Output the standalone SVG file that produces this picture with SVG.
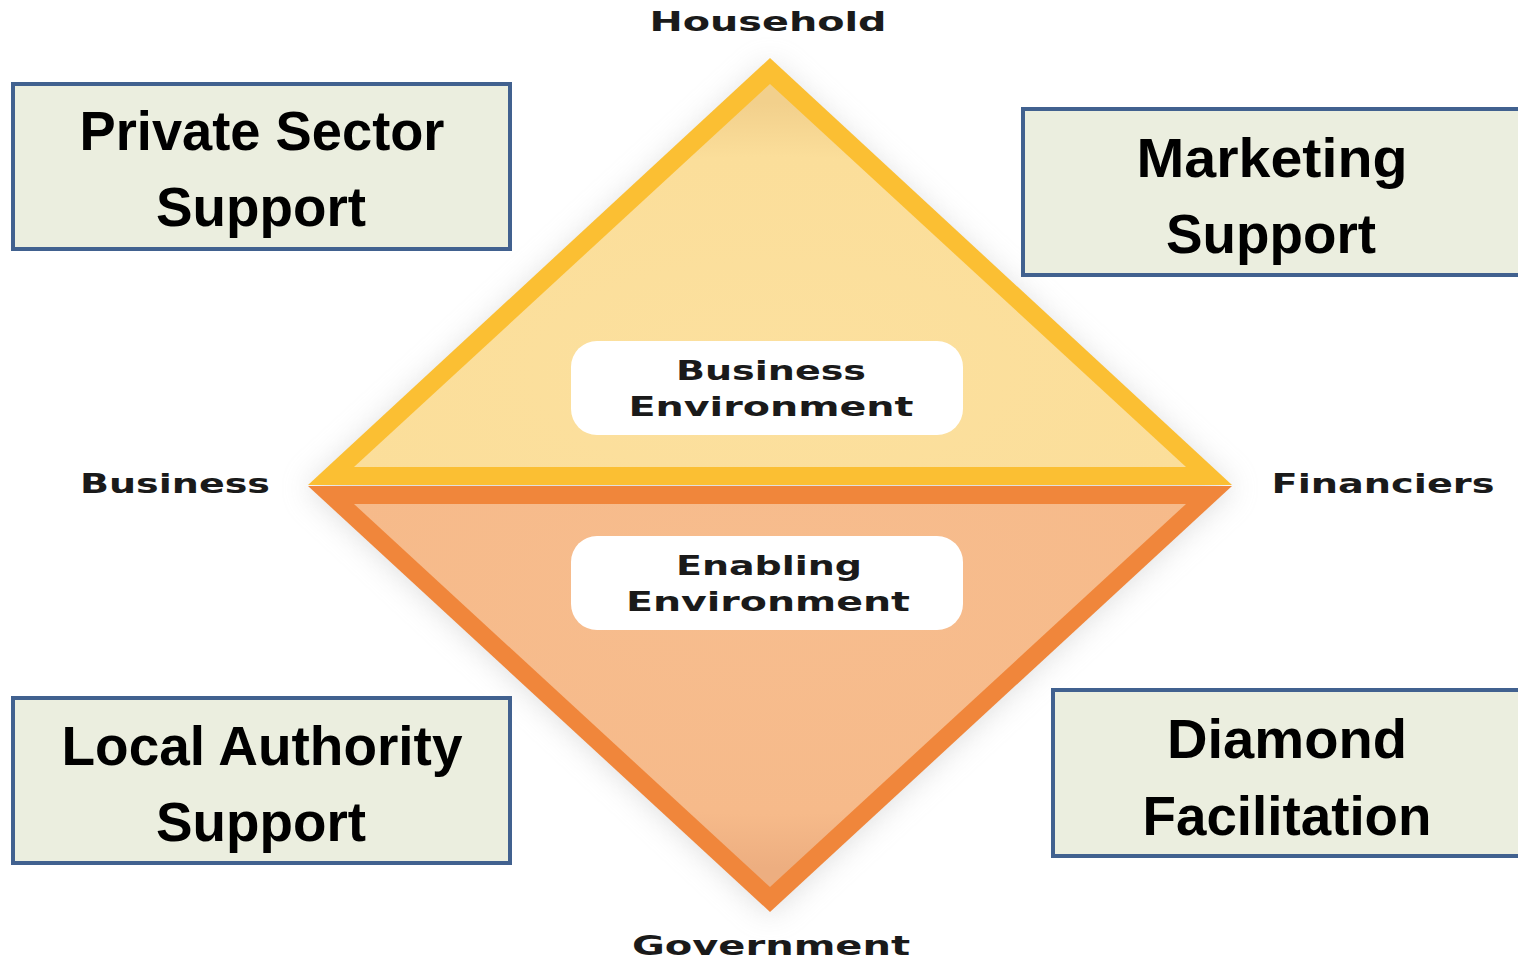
<svg xmlns="http://www.w3.org/2000/svg" width="1518" height="958" viewBox="0 0 1518 958">
<style>
.box{fill:#EBEEDF;stroke:#41618F;stroke-width:4}
.big{font-family:"Liberation Sans",Arial,sans-serif;font-weight:bold;font-size:56px;fill:#000;text-anchor:middle}
.lbl{font-family:"DejaVu Sans",Verdana,sans-serif;font-weight:bold;font-size:26px;fill:#1a1a1a;text-anchor:middle}
.pill{fill:#FFFFFF}
.ptxt{font-family:"DejaVu Sans",Verdana,sans-serif;font-weight:bold;font-size:26px;fill:#1a1a1a;text-anchor:middle}
</style>
<defs>
<filter id="shadow" x="-20%" y="-20%" width="140%" height="140%">
<feGaussianBlur stdDeviation="14"/>
</filter>
<filter id="soft" x="-10%" y="-10%" width="120%" height="120%">
<feGaussianBlur stdDeviation="6"/>
</filter>
<radialGradient id="gTop" cx="0.5" cy="0.75" r="0.7">
<stop offset="0" stop-color="#FCE09E"/>
<stop offset="0.8" stop-color="#FBDE9A"/>
<stop offset="1" stop-color="#F2D08C"/>
</radialGradient>
<radialGradient id="gBot" cx="0.5" cy="0.25" r="0.7">
<stop offset="0" stop-color="#F7BD8E"/>
<stop offset="0.8" stop-color="#F6BA8A"/>
<stop offset="1" stop-color="#EDAE80"/>
</radialGradient>
</defs>
<rect width="1518" height="958" fill="#FFFFFF"/>
<g id="diamond">
<polygon points="770,62 306,488 770,916 1234,488" fill="#C8C8C8" opacity="0.55" filter="url(#shadow)"/>
<polygon points="770,58 308,485 1232,485" fill="#FBBF33"/>
<polygon points="770,84 354,467 1186,467" fill="url(#gTop)"/>
<polygon points="308,486 1232,486 770,912" fill="#F0863B"/>
<polygon points="354,504 1186,504 770,887" fill="url(#gBot)"/>
</g>
<g id="labels">
<text class="lbl" x="768" y="31" textLength="237" lengthAdjust="spacingAndGlyphs">Household</text>
<text class="lbl" x="175" y="493" textLength="190" lengthAdjust="spacingAndGlyphs">Business</text>
<text class="lbl" x="1383" y="493" textLength="223" lengthAdjust="spacingAndGlyphs">Financiers</text>
<text class="lbl" x="771" y="955" textLength="278" lengthAdjust="spacingAndGlyphs">Government</text>
</g>
<g id="business-environment">
<rect class="pill" x="571" y="341" width="392" height="94" rx="26"/>
<text class="ptxt" x="771" y="380" textLength="190" lengthAdjust="spacingAndGlyphs">Business</text>
<text class="ptxt" x="771" y="416" textLength="285" lengthAdjust="spacingAndGlyphs">Environment</text>
</g>
<g id="enabling-environment">
<rect class="pill" x="571" y="536" width="392" height="94" rx="26"/>
<text class="ptxt" x="769" y="575" textLength="186" lengthAdjust="spacingAndGlyphs">Enabling</text>
<text class="ptxt" x="768" y="611" textLength="284" lengthAdjust="spacingAndGlyphs">Environment</text>
</g>
<g id="private-sector-support">
<rect class="box" x="13" y="84" width="497" height="165"/>
<text class="big" x="262" y="150" textLength="365" lengthAdjust="spacingAndGlyphs">Private Sector</text>
<text class="big" x="261" y="226" textLength="210" lengthAdjust="spacingAndGlyphs">Support</text>
</g>
<g id="marketing-support">
<rect class="box" x="1023" y="109" width="500" height="166"/>
<text class="big" x="1272" y="177" textLength="271" lengthAdjust="spacingAndGlyphs">Marketing</text>
<text class="big" x="1271" y="253" textLength="210" lengthAdjust="spacingAndGlyphs">Support</text>
</g>
<g id="local-authority-support">
<rect class="box" x="13" y="698" width="497" height="165"/>
<text class="big" x="262" y="765" textLength="401" lengthAdjust="spacingAndGlyphs">Local Authority</text>
<text class="big" x="261" y="841" textLength="210" lengthAdjust="spacingAndGlyphs">Support</text>
</g>
<g id="diamond-facilitation">
<rect class="box" x="1053" y="690" width="470" height="166"/>
<text class="big" x="1287" y="758" textLength="240" lengthAdjust="spacingAndGlyphs">Diamond</text>
<text class="big" x="1287" y="835" textLength="289" lengthAdjust="spacingAndGlyphs">Facilitation</text>
</g>
<g id="connectors"></g>
</svg>
